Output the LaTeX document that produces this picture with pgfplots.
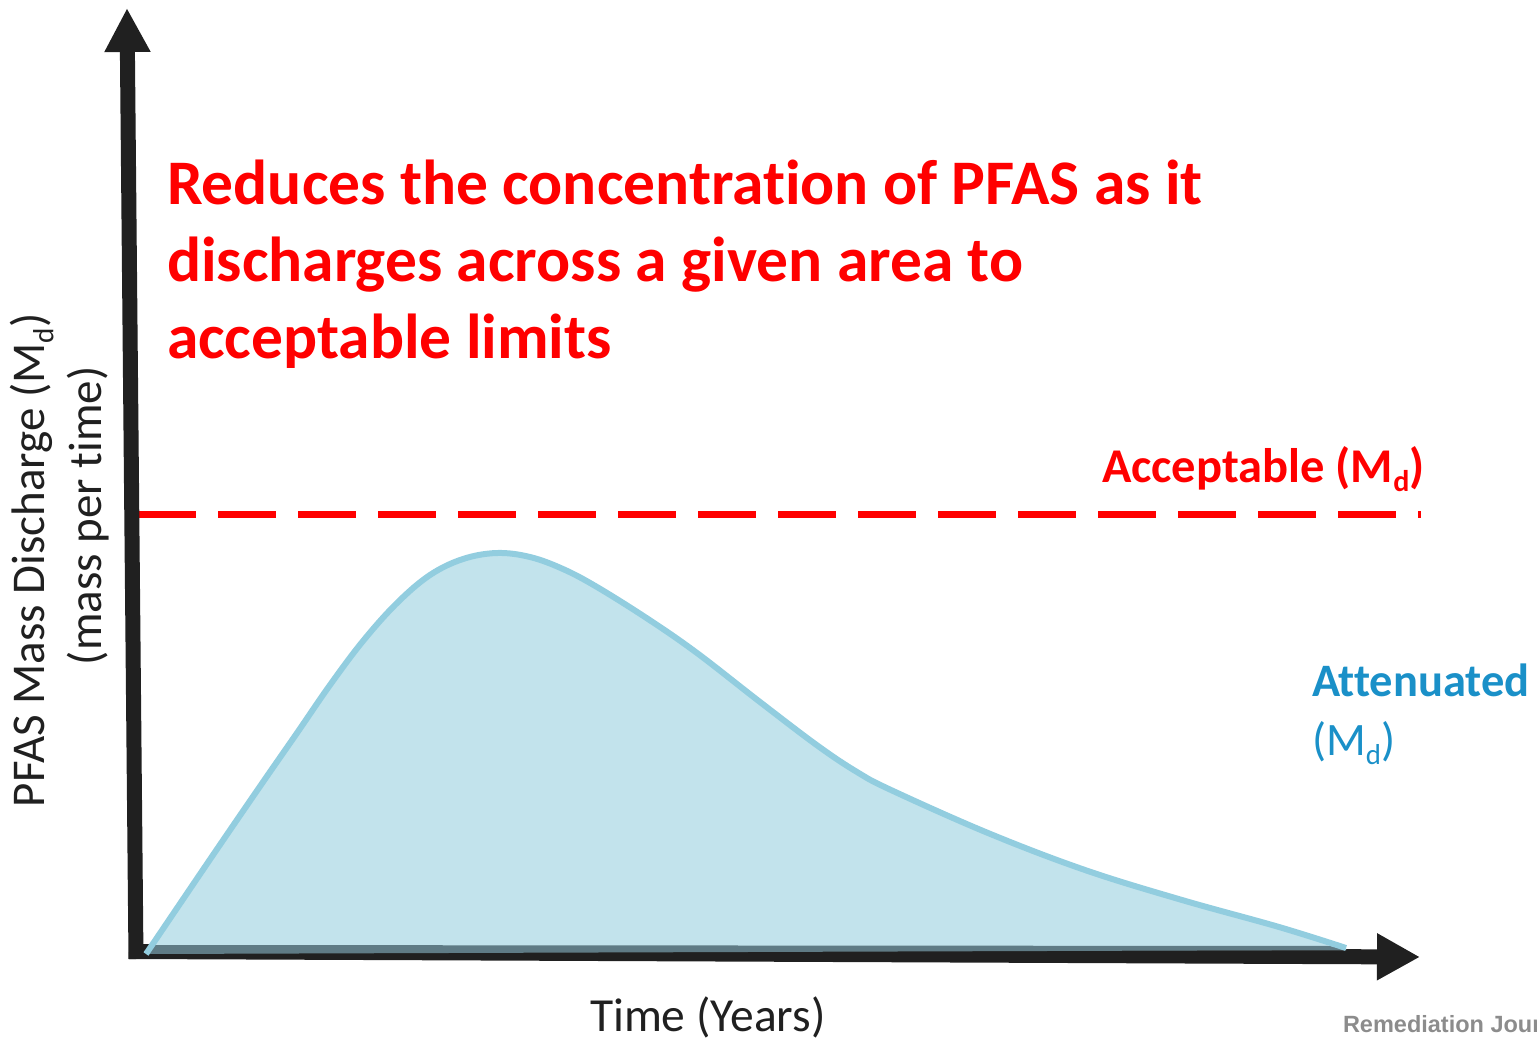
\documentclass[border=0pt]{standalone}
\usepackage{pgfplots}
\pgfplotsset{compat=1.18}
\usetikzlibrary{arrows.meta}
\usepackage{fontspec}
\setmainfont{Carlito}[Ligatures={NoCommon,NoContextual}, Contextuals={NoAlternate}]
\newfontfamily\arialfont{Liberation Sans}
\definecolor{axblack}{HTML}{202020}
\definecolor{fillblue}{HTML}{C2E3EC}
\definecolor{lineblue}{HTML}{92CDDF}
\definecolor{bandc}{HTML}{5F7B85}
\definecolor{attblue}{HTML}{1A90C8}
\definecolor{remgray}{HTML}{8C8C8C}
\definecolor{tred}{HTML}{FF0000}
\newcommand\sub[1]{\raisebox{-0.2em}{\scalebox{0.62}{#1}}}
\begin{document}
\begin{tikzpicture}
\useasboundingbox (0,0) rectangle (1537bp,1041bp);
\clip (0,0) rectangle (1537bp,1041bp);
\begin{axis}[at={(0,0)}, anchor=south west, scale only axis,
  width=1537bp, height=1041bp,
  xmin=0, xmax=1537, ymin=-91, ymax=950,
  hide axis, clip=false]
% dashed acceptable line
\addplot[tred, line width=7bp, dash pattern=on 58bp off 22bp] coordinates {(138,436) (1421,436)};
% axes
\addplot[axblack, line width=15bp, -{Triangle[length=44bp,width=43bp]}] coordinates {(136,-9) (127,942)};
\addplot[axblack, line width=15bp, -{Triangle[length=43bp,width=44bp]}] coordinates {(129,-1.5) (1420,-7)};
% attenuated area
\addplot[fill=fillblue, draw=none, smooth, tension=0.6] coordinates {
(146,-4) (213,95) (263,168) (297,217) (330,265) (363,309) (397,347) (430,375)
(463,391) (497,397) (530,393) (563,381) (597,363) (648,331) (697,297) (760,248)
(818,204) (857,178) (891,160) (988,117) (1085,80) (1182,50) (1279,23) (1346,2)} \closedcycle;
\addplot[fill=bandc, draw=none] coordinates {(149,5) (1330,4) (1346,0) (149,-4)} -- cycle;
\addplot[lineblue, line width=6bp, smooth, tension=0.6] coordinates {
(146,-4) (213,95) (263,168) (297,217) (330,265) (363,309) (397,347) (430,375)
(463,391) (497,397) (530,393) (563,381) (597,363) (648,331) (697,297) (760,248)
(818,204) (857,178) (891,160) (988,117) (1085,80) (1182,50) (1279,23) (1346,2)};
% texts
\begin{scope}[every node/.style={inner sep=0pt, outer sep=0pt, anchor=base west}]
\node[text=tred, font=\fontsize{63.5bp}{76bp}\selectfont\bfseries] at (axis cs:167,746) {Reduces the concentration of PFAS as it};
\node[text=tred, font=\fontsize{63.5bp}{76bp}\selectfont\bfseries] at (axis cs:167,669) {discharges across a given area to};
\node[text=tred, font=\fontsize{63.5bp}{76bp}\selectfont\bfseries] at (axis cs:167,592) {acceptable limits};
\node[text=tred, font=\fontsize{48.5bp}{58bp}\selectfont\bfseries] at (axis cs:1102,468) {Acceptable (M\sub{d})};
\node[text=attblue, font=\fontsize{46.5bp}{56bp}\selectfont\bfseries] at (axis cs:1312,254) {Attenuated};
\node[text=attblue, font=\fontsize{46.5bp}{56bp}\selectfont] at (axis cs:1312,195) {(M\sub{d})};
\node[text=axblack, font=\fontsize{47.5bp}{56bp}\selectfont] at (axis cs:590,-81) {Time (Years)};
\node[text=axblack, font=\fontsize{47bp}{56bp}\selectfont, rotate=90] at (axis cs:44,143) {PFAS Mass Discharge (M\sub{d})};
\node[text=axblack, font=\fontsize{47bp}{56bp}\selectfont, rotate=90] at (axis cs:101,285) {(mass per time)};
\node[text=remgray, font=\fontsize{23.5bp}{26bp}\selectfont\arialfont\bfseries] at (axis cs:1343,-82) {Remediation Journal};
\end{scope}
\end{axis}
\end{tikzpicture}
\end{document}
